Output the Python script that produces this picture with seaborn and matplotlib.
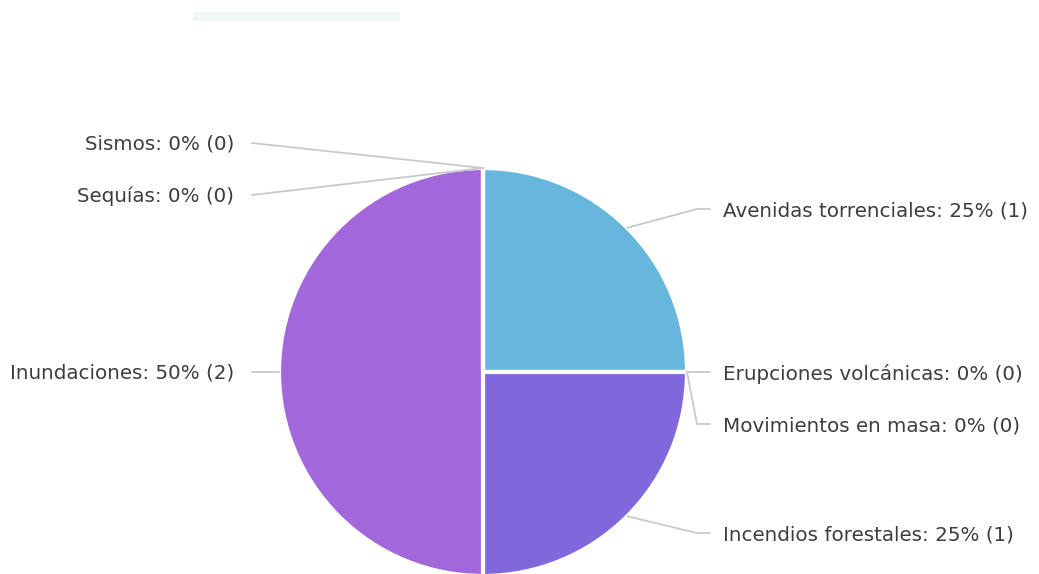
import matplotlib
matplotlib.use("Agg")
import matplotlib.pyplot as plt
import seaborn as sns
import numpy as np

# Hazard categories, counted responses (clockwise from 12 o'clock)
categories = [
    "Avenidas torrenciales",
    "Erupciones volcánicas",
    "Movimientos en masa",
    "Incendios forestales",
    "Inundaciones",
    "Sequías",
    "Sismos",
]
counts = [1, 0, 0, 1, 2, 0, 0]
palette = ["#67b7dc", "#6794dc", "#6771dc", "#8067dc", "#a367dc", "#c767dc", "#dc67ce"]

sns.set_theme(style="white")
plt.rcParams["font.family"] = ["DejaVu Sans"]

W, H = 1039, 574
fig = plt.figure(figsize=(W / 100, H / 100), dpi=100)
ax = fig.add_axes([0, 0, 1, 1])

cx, cy, R = 483, H - 372, 204
wedges, _ = ax.pie(
    counts,
    colors=palette,
    startangle=90,
    counterclock=False,
    center=(cx, cy),
    radius=R,
    frame=True,
    wedgeprops=dict(edgecolor="white", linewidth=3),
)
ax.set_xlim(0, W)
ax.set_ylim(0, H)
ax.set_aspect("equal")
ax.axis("off")

# faint header strip
ax.add_patch(plt.Rectangle((193, H - 21), 207, 9, color="#e6f3ef", alpha=0.6, lw=0, zorder=0))

total = sum(counts)
# label row (pixel y from top) for each category; side of the chart
label_rows = {
    "Avenidas torrenciales": (211, "right"),
    "Erupciones volcánicas": (374, "right"),
    "Movimientos en masa": (426, "right"),
    "Incendios forestales": (535, "right"),
    "Inundaciones": (373, "left"),
    "Sequías": (196, "left"),
    "Sismos": (144, "left"),
}

line_c = "#c9c9c9"
text_c = "#3d3d3d"
fs = 14.3
for w, name, n in zip(wedges, categories, counts):
    mid = np.deg2rad((w.theta1 + w.theta2) / 2)
    ex, ey = cx + R * np.cos(mid), cy + R * np.sin(mid)
    row, side = label_rows[name]
    ly = H - row
    text = f"{name}: {round(100 * n / total)}% ({n})"
    if side == "right":
        ax.plot([ex, 697, 710], [ey, ly + 2, ly + 2], color=line_c, lw=1.3, zorder=1, solid_capstyle="round")
        ax.text(723, ly, text, ha="left", va="center", fontsize=fs, color=text_c)
    else:
        ax.plot([ex, 252], [ey, ly + 1], color=line_c, lw=1.3, zorder=1, solid_capstyle="round")
        ax.text(234, ly, text, ha="right", va="center", fontsize=fs, color=text_c)

fig.savefig("out.png", dpi=100, facecolor="white")
